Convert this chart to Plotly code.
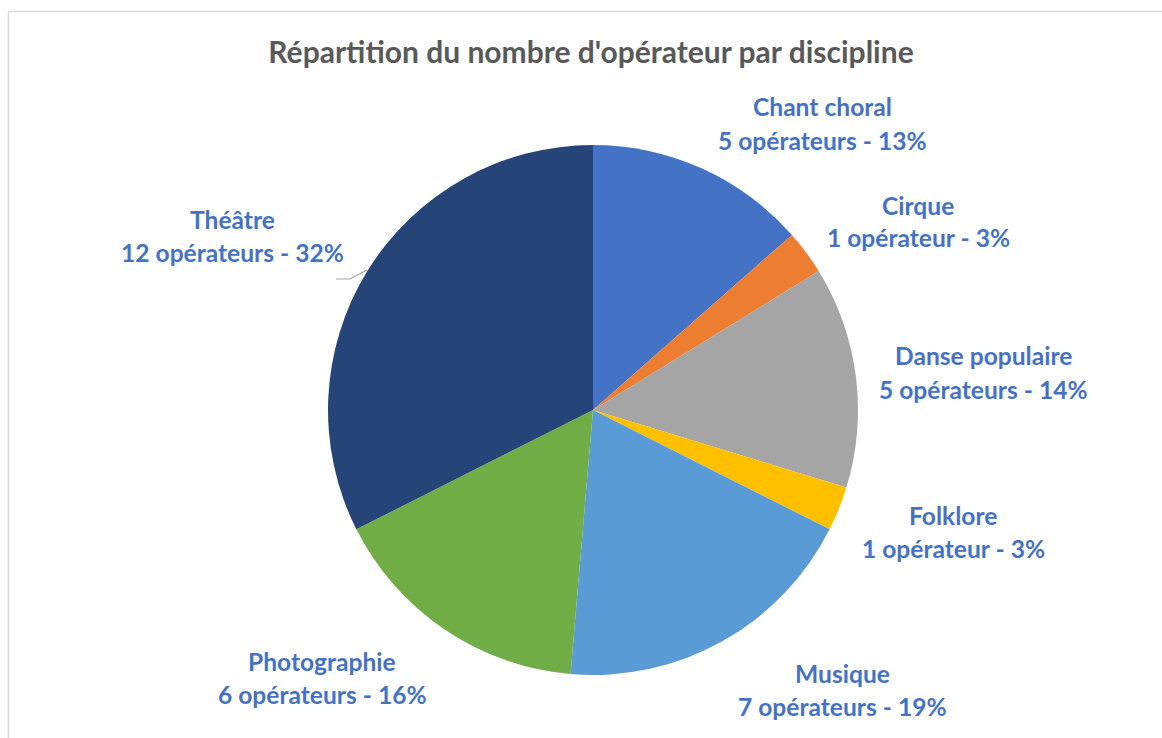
import plotly.graph_objects as go

# ---- data ----
categories = ["Chant choral", "Cirque", "Danse populaire", "Folklore", "Musique", "Photographie", "Théâtre"]
operateurs = [5, 1, 5, 1, 7, 6, 12]
pct_labels = ["13%", "3%", "14%", "3%", "19%", "16%", "32%"]

colors = ["#4472C4", "#ED7D31", "#A5A5A5", "#FFC000", "#5B9BD5", "#70AD47", "#264478"]

W, H = 1162, 738
cx, cy, R = 593, 410, 265
FONT = "Lato"

def unit(n):
    return "opérateur" if n == 1 else "opérateurs"

fig = go.Figure()
fig.add_trace(go.Pie(
    labels=categories,
    values=operateurs,
    sort=False,
    direction="clockwise",
    rotation=0,
    marker=dict(colors=colors, line=dict(color="white", width=0)),
    textinfo="none",
    hoverinfo="label+value+percent",
    showlegend=False,
    domain=dict(x=[(cx - R) / W, (cx + R) / W], y=[(H - cy - R) / H, (H - cy + R) / H]),
))

# label placement (pixels, layout only): centre x, first-line y
label_pos = [(822, 107), (918, 205), (983, 356), (953, 515), (842, 673), (322, 661), (232, 219)]
line_gap = 33

for cat, n, p, (lx, ly) in zip(categories, operateurs, pct_labels, label_pos):
    for i, txt in enumerate([cat, f"{n} {unit(n)} - {p}"]):
        fig.add_annotation(
            x=lx / W, y=1 - (ly + i * line_gap) / H, xref="paper", yref="paper",
            text=f"<b>{txt}</b>",
            showarrow=False, xanchor="center", yanchor="middle", align="center",
            font=dict(family=FONT, size=24.6, color="#4472C4"),
        )

# leader line for Théâtre
fig.add_shape(type="path", xref="paper", yref="paper",
              path=f"M {336/W},{1-279/H} L {350/W},{1-279/H} L {367/W},{1-270/H}",
              line=dict(color="#A6A6A6", width=1.2))

# chart frame (left + top edges visible)
fig.add_shape(type="line", xref="paper", yref="paper", x0=8.5 / W, x1=8.5 / W, y0=0, y1=1 - 11.5 / H,
              line=dict(color="#D9D9D9", width=1.5))
fig.add_shape(type="line", xref="paper", yref="paper", x0=8.5 / W, x1=1, y0=1 - 11.5 / H, y1=1 - 11.5 / H,
              line=dict(color="#D9D9D9", width=1.5))

fig.update_layout(
    width=W, height=H,
    margin=dict(l=0, r=0, t=0, b=0),
    paper_bgcolor="white", plot_bgcolor="white",
    title=dict(text="<b>Répartition du nombre d'opérateur par discipline</b>",
               x=591 / W, xanchor="center", y=1 - 52 / H, yanchor="middle",
               font=dict(family=FONT, size=30, color="#595959")),
)

fig.write_html("out.html", config={"displayModeBar": False},
               post_script="document.body.style.margin='0px';document.body.style.overflow='hidden';")
